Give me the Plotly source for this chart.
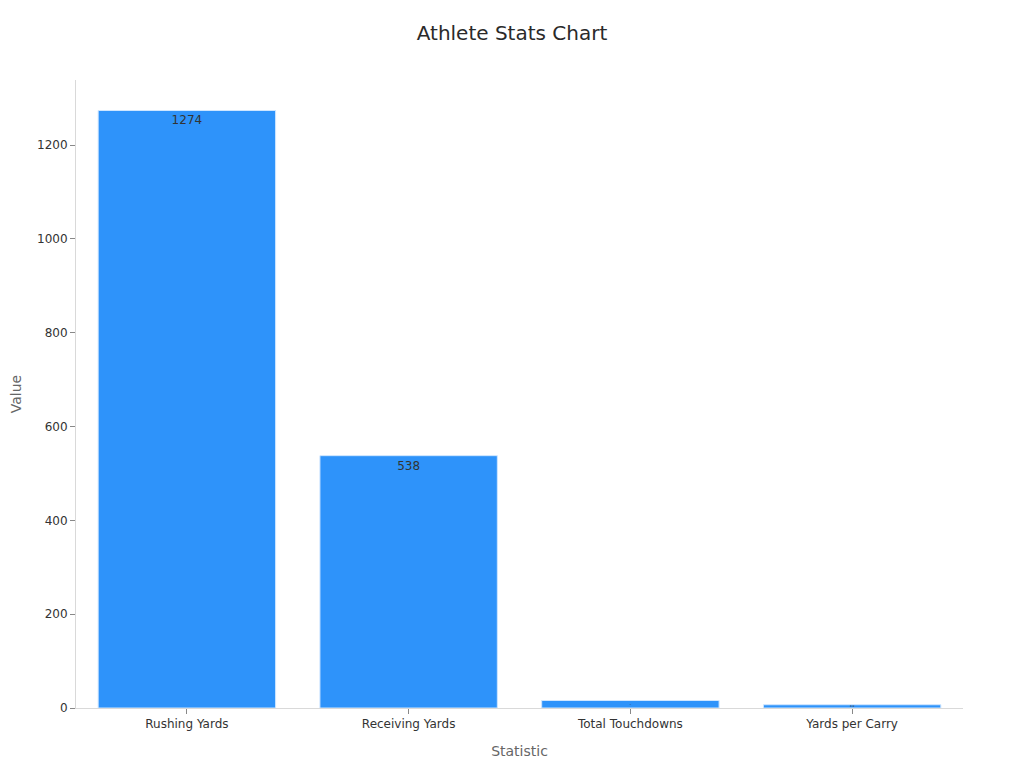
import plotly.graph_objects as go

# athlete season numbers
statistics = ["Rushing Yards", "Receiving Yards", "Total Touchdowns", "Yards per Carry"]
values = [1274, 538, 16, 6.9]
labels = ["1274", "538", "16", "6.9"]

bar_color = "#2E93FA"

fig = go.Figure()
fig.add_trace(go.Bar(
    x=statistics,
    y=values,
    text=labels,
    textposition="inside",
    insidetextanchor="end",
    textfont=dict(color="#333333", size=12),
    marker=dict(color=bar_color, line=dict(color="#cfe6ff", width=1)),
))

fig.update_layout(
    title=dict(text="Athlete Stats Chart", x=0.5, xanchor="center", y=0.976,
               font=dict(size=20, color="#2a2a2a")),
    font=dict(family="DejaVu Sans", size=12, color="#333333"),
    plot_bgcolor="white",
    paper_bgcolor="white",
    margin=dict(l=68, r=53, t=72, b=52),
    bargap=0.2,
    showlegend=False,
)
fig.update_xaxes(
    title=dict(text="Statistic", font=dict(size=14, color="#666666")),
    showline=True, linecolor="#d9d9d9", linewidth=1,
    ticks="outside", tickcolor="#888888", ticklen=5,
    showgrid=False, automargin=False,
)
fig.update_yaxes(
    title=dict(text="Value", font=dict(size=14, color="#666666")),
    range=[0, 1339],
    dtick=200,
    showline=True, linecolor="#d9d9d9", linewidth=1,
    ticks="outside", tickcolor="#888888", ticklen=5,
    showgrid=False, zeroline=False, automargin=False,
)

fig.write_html("out.html")
